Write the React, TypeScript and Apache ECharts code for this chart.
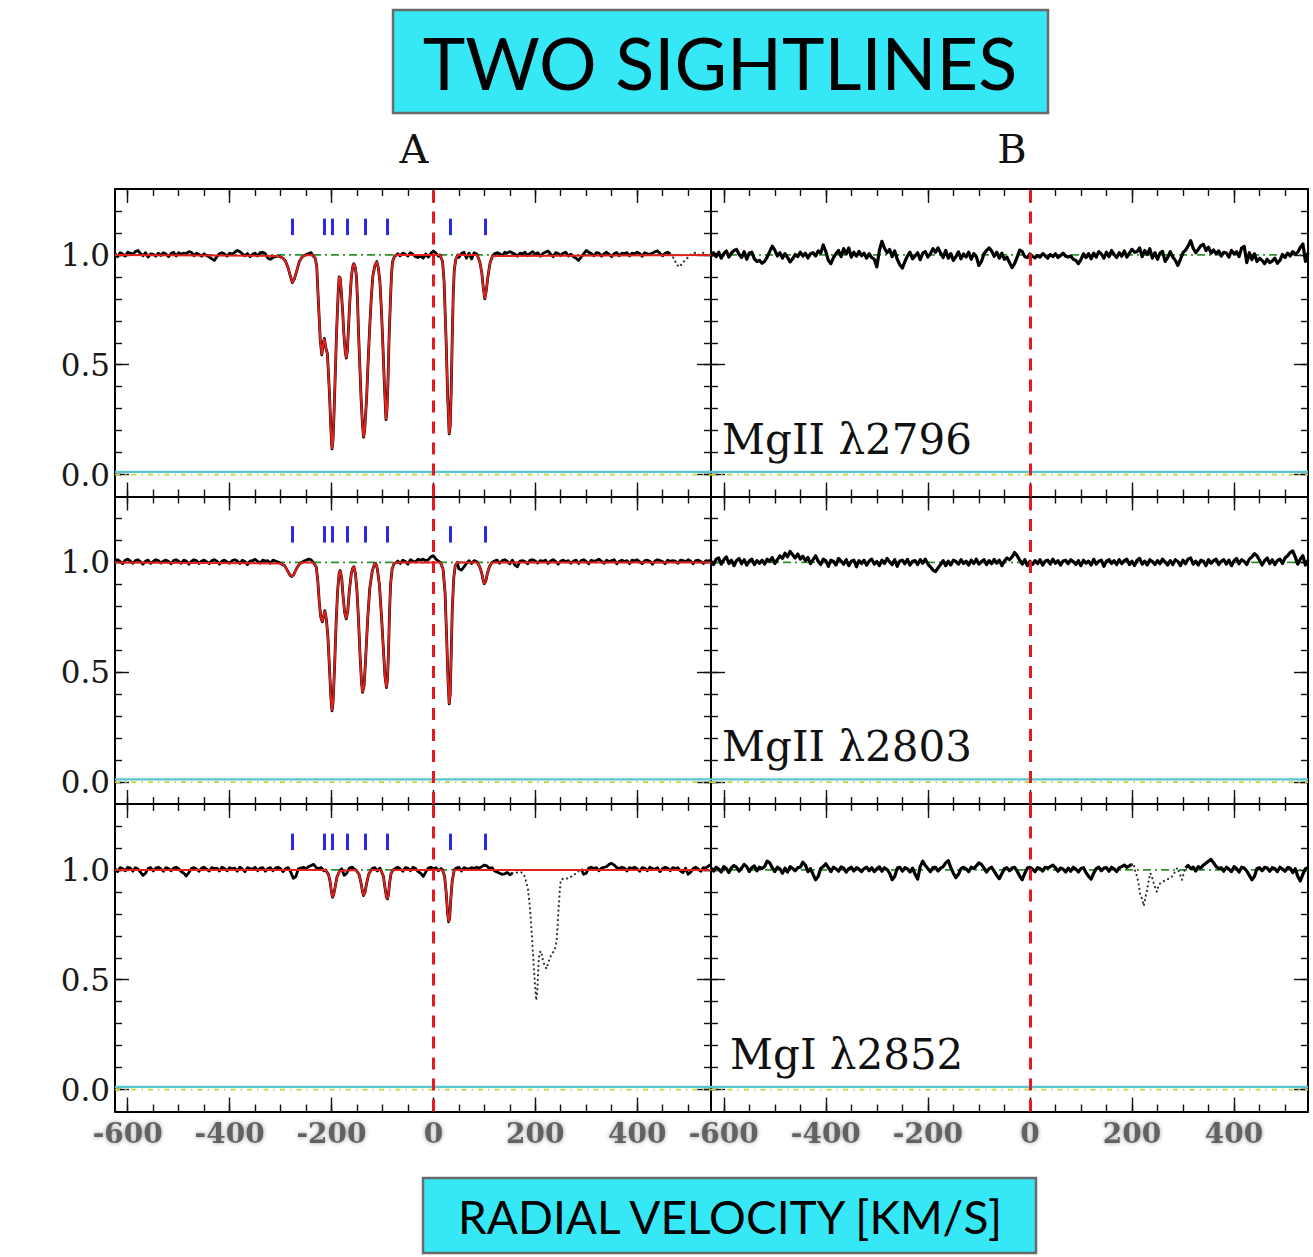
import React, { useEffect, useRef } from 'react';
import * as echarts from 'echarts';

// ---------- axis ranges & ticks ----------
const V_START = -625;
const V_END = 545;
const V_STEP = 5;
const Y_MIN = -0.1;
const Y_MAX = 1.3;

const X_MAJOR = [-600, -400, -200, 0, 200, 400];
const X_MINOR = [-600, -550, -500, -450, -400, -350, -300, -250, -200, -150, -100, -50, 0, 50, 100, 150, 200, 250, 300, 350, 400, 450, 500];
const Y_MAJOR = [0, 0.5, 1.0];
const Y_MINOR = [0, 0.1, 0.2, 0.3, 0.4, 0.5, 0.6, 0.7, 0.8, 0.9, 1.0, 1.1, 1.2];

// component velocities (blue ticks), error level, continuum
const COMPONENT_VELOCITIES = [-277, -215, -198, -169, -134, -91, 33, 101];
const TICK_BOTTOM = 1.09;
const TICK_TOP = 1.165;
const ERROR_LEVEL = 0.012;
const CONTINUUM = 1.0;

// ---------- observed flux: deviations from 1 in thousandths, sampled every 5 km/s from -625 ----------
// null = no solid sample (inside a fitted-profile window, or a masked/dotted region)
const A1_NOISE = [
  5, -8, 10, 4, -6, 12, 8, 3, 15, 20, 6, -4, 10, -10, 5, 2, -6, 8, -3, 10,
  4, -8, 6, 12, -5, 10, 3, 8, 6, 15, 12, -4, 8, 2, -6, 5, -3, -10, -18, -25,
  -8, 5, 10, 4, -6, 8, 3, 12, 20, 15, 5, -4, 6, -8, 3, 8, -5, 10, 12, 6,
  -15, -20, -12, -8, null, null, null, null, null, null, null, null, null, null, null, 2, 6, 10, null, null,
  null, null, null, null, null, null, null, null, null, null, null, null, null, null, null, null, null, null, null, null,
  null, null, null, null, null, null, null, null, null, null, null, 5, -4, 8, 3, -6, 10, 2, -8, -12,
  -5, -15, 4, -10, 6, 18, 8, -6, null, null, null, null, null, null, null, -12, 6, 12, -15, 8,
  -18, 10, 4, null, null, null, null, null, null, 5, 10, 6, -4, 12, 8, 15, 10, 4, -6, 8,
  5, 12, -4, 8, 15, 3, 10, -6, 6, 12, 18, 4, -8, 10, 6, -3, 8, 12, -5, 3,
  -8, -15, -25, -10, 5, 20, 12, 6, -4, 10, 8, -6, 5, 12, 3, -8, 6, 10, -4, 8,
  6, 10, -5, 8, 4, 12, 6, -6, 10, 5, 3, 8, 14, 18, 6, -4, 8, 12, 5, null,
  null, null, null, null, null, null, null, null, null, null, null, null, null, null, null,
];
const A2_NOISE = [
  8, 12, 4, -6, 10, 15, 6, -4, 8, 12, 3, -8, 6, 10, -5, 4, 12, 8, -3, 6,
  10, 4, -6, 8, 12, 5, -4, 10, 6, -8, 4, 12, 8, -5, 6, 10, 3, -6, 8, 12,
  5, -8, 6, 10, 2, -4, 8, 12, 6, -5, 10, 4, -10, 6, 8, 14, 5, -3, 10, 6,
  8, -4, 10, 6, 2, null, null, null, null, null, null, null, null, null, 5, 10, 15, 12, null, null,
  null, null, null, null, null, null, null, null, null, null, null, null, null, null, null, null, null, null, null, null,
  null, null, null, null, null, null, null, null, null, null, null, 6, -5, 10, 4, -8, 12, 5, 2, 15,
  10, 15, 8, 12, 25, 30, 15, 5, null, null, null, null, null, null, null, -30, -35, -20, -5, 8,
  -5, 8, 4, null, null, null, null, null, null, 6, 10, -4, 8, 12, 5, -6, 10, -12, -20, 6,
  8, 4, -6, 10, 12, 6, -3, 8, 5, 10, -5, 6, 12, 4, -8, 6, 10, 3, 8, -4,
  6, 10, -5, 8, 12, 4, -6, 10, 5, 8, 15, 6, -4, 10, 3, 8, 12, -6, 5, 10,
  4, 8, -6, 10, 6, 12, 3, -5, 8, 10, 5, -8, 6, 12, 8, 4, -6, 10, 5, 8,
  6, -4, 10, 8, 3, 12, 5, -6, 8, 10, 4, -5, 8, 6, 10,
];
const A3_NOISE = [
  5, -8, 10, 6, -4, 12, 8, -6, 10, 4, -10, -25, -15, 6, 10, -5, 8, 12, 4, -6,
  10, 6, -4, 8, 12, 5, -8, -15, -28, -12, 6, 10, 4, -6, 8, 12, 3, -5, 10, 6,
  8, -5, 12, 6, -4, 10, 5, 8, -6, 12, 4, -8, 10, 6, 3, 12, -4, 8, 10, -6,
  6, 10, -4, 8, 12, 5, -8, 6, 10, -10, -38, -30, 5, 8, 12, 4, 15, 20, 25, 10,
  6, 10, -4, null, null, null, null, null, null, 5, -25, -15, 8, 12, 4, null, null, null, null, null,
  null, 6, 10, -5, 8, null, null, null, null, null, 6, 12, 4, -6, 10, 8, -4, 12, 6, -8,
  -15, -30, -10, 8, 12, 5, 10, -4, 6, null, null, null, null, null, 8, 12, -5, 10, 6, 4,
  10, 6, 12, 8, 15, 22, 18, 6, 10, -5, -10, -15, -20, -18, -12, -22, -15, null, null, null,
  null, null, null, null, null, null, null, null, null, null, null, null, null, null, null, null, null, null, null, null,
  null, null, null, 5, -20, -15, 8, 12, 6, 10, -4, 8, 12, 15, 25, 30, 22, 10, 6, 12,
  8, -5, 10, 6, 12, 4, -6, 10, 8, -4, 12, 6, 3, 10, -8, 6, 12, 8, -4, 10,
  6, 10, -5, -12, 8, -20, -10, 6, 12, 4, -6, 10, 8, 18, 25,
];
const B1_NOISE = [
  -5, 10, -8, 12, -15, 5, 18, -10, 8, 20, 25, 3, -12, 15, -20, 8, 12, -18, -30, -25,
  -38, -30, -10, 15, 40, 22, -5, 10, -15, 6, -12, -32, -18, 2, -8, 12, -6, 8, -14, 5,
  10, -5, 18, 8, 45, 15, -25, -40, -12, 6, 20, -8, 28, 4, 32, -10, 12, -6, 16, -4,
  8, -15, 5, -12, -20, -55, 20, 62, 30, 10, 25, -8, 18, -20, -45, -60, -30, -5, 12, -18,
  -5, 10, -22, 8, 15, -10, 5, 28, 12, 32, 8, -12, 20, -15, 6, -25, -8, 14, -18, 4,
  -10, 12, -20, 6, -8, -48, -30, 5, 20, 32, 18, -6, 12, -15, 8, -20, -10, -35, -58, -40,
  -10, 22, 15, -8, -12, 4, -6, -14, -2, -10, 6, -4, -15, 2, -8, 5, -12, -3, 8, -6,
  -10, -5, -20, -25, -40, -22, 5, -12, 6, -18, 8, -10, 15, 4, -15, 12, -8, 20, 2, -12,
  10, -6, 18, -10, 8, 25, 12, 15, 32, -8, 20, 2, 28, -15, 10, -20, 8, 16, -30, -12,
  15, -10, -25, -48, -20, 10, 22, 40, 65, 30, 10, 25, 42, 48, 20, 35, 8, 22, 5, 18,
  -5, 12, 8, -10, 20, 5, 15, -8, 32, 38, -35, 10, -22, 5, -30, -15, -25, -40, -20, -35,
  -28, -15, -38, -25, 2, -12, 8, -5, 15, 5, 12, 35, 50, -30, 10,
];
const B2_NOISE = [
  5, -10, 15, 20, -8, 12, 25, -5, 10, -15, 8, 18, -6, 12, -12, 6, 15, -10, 8, -4,
  10, -8, 15, 5, 22, -5, 12, 30, 18, 42, 25, 50, 35, 20, 38, 15, 28, 8, 22, -6,
  12, 30, 5, -10, 15, 8, -18, 10, 4, -12, 18, 6, -8, 12, -15, 5, 10, -20, 8, -5,
  10, -12, 6, 15, -8, 4, -15, 10, -5, 18, 2, -10, 12, -18, 6, 10, -6, 14, -12, 5,
  8, -10, 12, -4, 15, -8, -20, -35, -42, -25, -10, 8, -15, 6, -12, 10, 4, -8, 12, -5,
  6, -12, 10, -5, 15, -8, 4, 12, -10, 8, -6, 14, -4, 10, -15, 6, 20, 12, 25, 45,
  30, 10, -8, 12, -15, 5, -10, 8, -5, 12, -12, 6, 10, -8, 15, -4, 8, -12, 6, 10,
  -6, 12, 4, -10, 8, -15, 10, -4, 6, -12, 14, -8, 5, 10, -18, 6, 12, -5, 8, -10,
  12, -6, 8, 15, -10, 5, -14, 10, 18, -8, 6, -12, 12, 4, -10, 8, -6, 15, 2, -12,
  8, -10, 12, 4, -15, 10, -6, 15, 20, -8, 6, -12, 10, 5, -15, 12, -4, 8, 15, -10,
  6, 12, -8, 10, -15, 8, 18, -6, 12, 4, -10, 15, 25, 40, 30, 10, -12, 8, 20, -6,
  12, -10, 8, 15, -5, 20, 30, 45, 52, 25, -8, 15, 30, -12, 10,
];
const B3_NOISE = [
  8, -5, 12, 4, -10, 15, 6, -12, 10, 20, 12, -6, 8, 25, 15, -8, 10, 18, -4, 12,
  6, 15, 40, 32, 10, -8, 12, 5, -15, 8, -10, 15, 6, -4, 10, 12, 35, 22, -8, 6,
  -20, -45, -30, 6, 15, 28, 10, -8, 12, 5, -6, 14, 8, -10, 6, 12, -5, 10, 4, -8,
  6, 12, -4, 10, -8, 5, 14, -6, 10, 2, -15, -45, -30, 8, 12, -6, 10, 4, -10, 8,
  -20, -42, 15, 40, 20, 6, -8, 10, 12, -5, 8, 15, 32, 42, 10, -15, -35, -20, 6, 12,
  5, -8, 12, 6, 18, 32, 25, 8, -10, 6, 12, -6, -25, -40, -18, 5, 10, -4, 8, 12,
  -6, -28, -45, -15, 8, 12, 4, -8, 10, 6, -5, 12, 8, 15, 22, 10, -6, 8, 4, -10,
  8, -6, 12, 4, -10, 6, 10, -12, -30, -42, -15, 6, 12, -4, 8, 10, -6, 12, 5, -8,
  10, 15, 22, 12, 18, 25, null, null, null, null, null, null, null, null, null, null, null, null, null, null,
  null, null, null, null, null, null, 10, 20, 6, 12, -5, 15, 8, 22, 30, 40, 48, 32, 15, 6,
  10, -6, 12, 4, -8, 15, 6, -10, 12, 8, -5, -25, -45, -30, 6, 10, -4, 12, 8, -6,
  10, 6, -8, 12, 4, -6, 10, 8, -12, 5, -30, -50, -20, 5, 10,
];

// ---------- absorption profiles [velocity, normalised flux] ----------
const A1_PROFILES = [
  [[-305, 0.995], [-300, 0.99], [-295, 0.985], [-290, 0.97], [-285, 0.94], [-281, 0.905], [-277, 0.874], [-273, 0.89], [-268, 0.93], [-263, 0.97], [-258, 0.99], [-252, 0.998]],
  [[-238, 1.0], [-232, 0.985], [-229, 0.95], [-226, 0.8], [-222, 0.61], [-219, 0.545], [-216, 0.6], [-214, 0.62], [-211, 0.575], [-208, 0.55], [-204, 0.37], [-201, 0.2], [-199, 0.117], [-197, 0.16], [-195, 0.28], [-192, 0.5], [-190, 0.65], [-187, 0.82], [-185, 0.9], [-183, 0.895], [-181, 0.84], [-178, 0.74], [-176, 0.65], [-173, 0.56], [-171, 0.53], [-169, 0.56], [-167, 0.65], [-164, 0.79], [-161, 0.9], [-158, 0.95], [-156, 0.96], [-153, 0.94], [-151, 0.9], [-149, 0.8], [-147, 0.65], [-144, 0.47], [-142, 0.35], [-139, 0.22], [-137, 0.17], [-135, 0.2], [-131, 0.35], [-128, 0.52], [-125, 0.67], [-122, 0.8], [-119, 0.9], [-115, 0.95], [-111, 0.97], [-108, 0.94], [-105, 0.88], [-102, 0.75], [-99, 0.58], [-96, 0.4], [-93, 0.25], [-91, 0.3], [-89, 0.43], [-87, 0.62], [-84, 0.81], [-82, 0.92], [-80, 0.97], [-76, 0.995], [-72, 1.0]],
  [[13, 1.0], [18, 0.97], [21, 0.88], [25, 0.61], [28, 0.36], [31, 0.185], [33, 0.22], [35, 0.38], [37, 0.62], [39, 0.82], [41, 0.93], [44, 0.98], [48, 1.0]],
  [[86, 1.0], [91, 0.97], [95, 0.92], [98, 0.85], [101, 0.8], [104, 0.84], [107, 0.9], [111, 0.96], [116, 0.995]],
];
const A2_PROFILES = [
  [[-300, 0.995], [-292, 0.985], [-286, 0.96], [-281, 0.94], [-278, 0.936], [-274, 0.945], [-269, 0.97], [-264, 0.99], [-258, 1.0]],
  [[-236, 1.0], [-230, 0.98], [-227, 0.92], [-224, 0.82], [-221, 0.75], [-218, 0.73], [-215, 0.76], [-213, 0.78], [-210, 0.74], [-207, 0.66], [-204, 0.52], [-201, 0.38], [-199, 0.324], [-197, 0.36], [-194, 0.52], [-191, 0.72], [-188, 0.87], [-185, 0.95], [-183, 0.963], [-180, 0.93], [-177, 0.84], [-174, 0.77], [-171, 0.743], [-168, 0.78], [-165, 0.87], [-161, 0.95], [-158, 0.975], [-156, 0.98], [-153, 0.95], [-150, 0.87], [-147, 0.74], [-144, 0.58], [-141, 0.45], [-139, 0.408], [-136, 0.44], [-133, 0.56], [-129, 0.74], [-125, 0.88], [-120, 0.96], [-116, 0.99], [-113, 0.995], [-110, 0.97], [-106, 0.9], [-102, 0.76], [-98, 0.6], [-95, 0.48], [-92, 0.43], [-90, 0.47], [-88, 0.6], [-86, 0.78], [-84, 0.9], [-81, 0.97], [-77, 0.995], [-72, 1.0]],
  [[14, 1.0], [19, 0.97], [23, 0.86], [26, 0.66], [29, 0.45], [31, 0.356], [33, 0.4], [35, 0.58], [37, 0.78], [40, 0.93], [43, 0.985], [47, 1.0]],
  [[86, 1.0], [91, 0.98], [95, 0.95], [98, 0.915], [100, 0.903], [103, 0.915], [106, 0.95], [110, 0.98], [115, 1.0]],
];
const A3_PROFILES = [
  [[-212, 1.0], [-206, 0.98], [-203, 0.95], [-200, 0.9], [-198, 0.875], [-196, 0.885], [-193, 0.92], [-189, 0.97], [-184, 0.995]],
  [[-152, 1.0], [-146, 0.98], [-142, 0.94], [-139, 0.9], [-137, 0.883], [-134, 0.9], [-131, 0.94], [-127, 0.98], [-122, 1.0]],
  [[-103, 1.0], [-98, 0.97], [-95, 0.92], [-92, 0.875], [-90, 0.868], [-88, 0.89], [-86, 0.94], [-83, 0.985], [-79, 1.0]],
  [[18, 1.0], [22, 0.97], [25, 0.9], [28, 0.8], [30, 0.764], [32, 0.78], [34, 0.86], [37, 0.95], [41, 1.0]],
];

// ---------- masked (dotted) data [velocity, flux] ----------
const A1_DOTTED = [[465, 1.005], [472, 0.985], [478, 0.955], [483, 0.945], [488, 0.96], [494, 0.975], [500, 0.99], [507, 1.005], [515, 1.01], [522, 1.0], [530, 1.01], [537, 1.0], [545, 0.995]];
const A2_DOTTED: number[][] = [];
const A3_DOTTED = [[155, 0.985], [160, 0.985], [167, 0.99], [172, 0.99], [178, 0.977], [183, 0.94], [186, 0.909], [190, 0.817], [194, 0.68], [198, 0.528], [201, 0.43], [202, 0.406], [204, 0.45], [207, 0.6], [210, 0.63], [212, 0.627], [215, 0.59], [217, 0.574], [220, 0.56], [222, 0.55], [226, 0.58], [229, 0.6], [233, 0.62], [236, 0.627], [240, 0.65], [242, 0.68], [244, 0.75], [246, 0.833], [248, 0.9], [250, 0.954], [255, 0.96], [260, 0.962], [265, 0.96], [271, 0.97], [276, 0.975], [281, 0.99], [286, 0.995], [290, 1.005]];
const B3_DOTTED = [[200, 1.025], [203, 1.03], [207, 0.99], [210, 0.97], [213, 0.936], [216, 0.89], [220, 0.867], [223, 0.836], [226, 0.87], [229, 0.9], [232, 0.94], [236, 0.985], [239, 0.97], [243, 0.936], [247, 0.91], [249, 0.9], [252, 0.93], [258, 0.945], [264, 0.95], [269, 0.955], [274, 0.965], [279, 0.97], [284, 0.99], [289, 1.01], [294, 0.98], [298, 0.955], [302, 0.99], [305, 1.01]];

const LINE_LABELS = ['MgII λ2796', 'MgII λ2803', 'MgI λ2852'];
const COLUMN_TITLES = ['A', 'B'];
const TITLE = 'TWO SIGHTLINES';
const X_TITLE = 'RADIAL VELOCITY [KM/S]';

// ---------- layout ----------
const GRID_LEFT = [115, 711];
const GRID_WIDTH = [596, 597];
const GRID_TOP = [189, 496.5, 804];
const GRID_HEIGHT = 307.5;

type Panel = { row: number; col: number; noise: (number | null)[]; profiles: number[][][]; dotted: number[][]; model: boolean };
const PANELS: Panel[] = [
  { row: 0, col: 0, noise: A1_NOISE, profiles: A1_PROFILES, dotted: A1_DOTTED, model: true },
  { row: 0, col: 1, noise: B1_NOISE, profiles: [], dotted: [], model: false },
  { row: 1, col: 0, noise: A2_NOISE, profiles: A2_PROFILES, dotted: A2_DOTTED, model: true },
  { row: 1, col: 1, noise: B2_NOISE, profiles: [], dotted: [], model: false },
  { row: 2, col: 0, noise: A3_NOISE, profiles: A3_PROFILES, dotted: A3_DOTTED, model: true },
  { row: 2, col: 1, noise: B3_NOISE, profiles: [], dotted: B3_DOTTED, model: false },
];

function observed(noise: (number | null)[], profiles: number[][][]) {
  const windows = profiles.map((f) => [f[0][0], f[f.length - 1][0]]);
  const pts: (number | null)[][] = [];
  noise.forEach((d, i) => {
    const v = V_START + i * V_STEP;
    if (windows.some(([a, b]) => v >= a && v <= b)) return;
    pts.push([v, d === null ? null : 1 + d / 1000]);
  });
  profiles.forEach((f) => f.forEach((p) => pts.push(p)));
  pts.sort((a, b) => (a[0] as number) - (b[0] as number));
  return pts;
}

function model(profiles: number[][][]) {
  const pts: number[][] = [[V_START, CONTINUUM]];
  profiles.forEach((f) => f.forEach((p) => pts.push(p)));
  pts.push([V_END, CONTINUUM]);
  pts.sort((a, b) => a[0] - b[0]);
  return pts;
}

const X_LABEL_STYLE = {
  color: '#626262',
  fontFamily: 'DejaVu Serif',
  fontWeight: 'bold' as const,
  fontSize: 28,
  margin: 8,
  textShadowColor: 'rgba(0,0,0,0.4)',
  textShadowBlur: 4,
};

function mkX(g: number, position: string, ticks: number[], len: number, line: boolean, labels: boolean) {
  return {
    type: 'value', gridIndex: g, position, min: V_START, max: V_END,
    axisLine: { show: line, onZero: false, lineStyle: { color: '#000', width: 2 } },
    axisTick: { show: true, inside: true, length: len, customValues: ticks, lineStyle: { color: '#111', width: 1.4 } },
    axisLabel: { show: labels, customValues: X_MAJOR, formatter: (v: number) => String(v), ...X_LABEL_STYLE },
    splitLine: { show: false },
  };
}

function mkY(g: number, position: string, ticks: number[], len: number, line: boolean, labels: boolean) {
  return {
    type: 'value', gridIndex: g, position, min: Y_MIN, max: Y_MAX,
    axisLine: { show: line, onZero: false, lineStyle: { color: '#000', width: 2 } },
    axisTick: { show: true, inside: true, length: len, customValues: ticks, lineStyle: { color: '#111', width: 1.4 } },
    axisLabel: {
      show: labels, customValues: Y_MAJOR, formatter: (v: number) => v.toFixed(1),
      color: '#1a1a1a', fontFamily: 'DejaVu Serif', fontSize: 31, margin: 5,
    },
    splitLine: { show: false },
  };
}

function buildOption() {
  const grid: any[] = [];
  const xAxis: any[] = [];
  const yAxis: any[] = [];
  const series: any[] = [];

  PANELS.forEach((p, g) => {
    grid.push({ left: GRID_LEFT[p.col], top: GRID_TOP[p.row], width: GRID_WIDTH[p.col], height: GRID_HEIGHT });
    const xi = xAxis.length;
    const yi = yAxis.length;
    const showX = p.row === 2;
    const showY = p.col === 0;
    xAxis.push(
      mkX(g, 'bottom', X_MAJOR, 14, true, showX),
      mkX(g, 'bottom', X_MINOR, 7, false, false),
      mkX(g, 'top', X_MAJOR, 14, true, false),
      mkX(g, 'top', X_MINOR, 7, false, false),
    );
    yAxis.push(
      mkY(g, 'left', Y_MAJOR, 14, true, showY),
      mkY(g, 'left', Y_MINOR, 7, false, false),
      mkY(g, 'right', Y_MAJOR, 14, true, false),
      mkY(g, 'right', Y_MINOR, 7, false, false),
    );
    const base = { type: 'line', xAxisIndex: xi, yAxisIndex: yi, showSymbol: false, symbol: 'none', silent: true, animation: false };
    series.push({ ...base, data: [[V_START, CONTINUUM], [V_END, CONTINUUM]], z: 1, lineStyle: { color: '#2f8f2f', width: 1.8, type: [8, 4, 2, 4] } });
    series.push({ ...base, data: [[V_START, 0], [V_END, 0]], z: 1, lineStyle: { color: '#c4d43c', width: 1.8, type: [5, 5, 1.5, 5] } });
    series.push({ ...base, data: [[V_START, ERROR_LEVEL], [V_END, ERROR_LEVEL]], z: 2, lineStyle: { color: '#56c6d0', width: 2.4 } });
    series.push({ ...base, data: observed(p.noise, p.profiles), z: 3, connectNulls: false, lineStyle: { color: '#000', width: p.model ? 2.8 : 3.2, join: 'round' } });
    if (p.dotted.length) {
      series.push({ ...base, data: p.dotted, z: 3, lineStyle: { color: '#333', width: 2.2, type: [0.1, 4.6], cap: 'round' } });
    }
    if (p.model) {
      series.push({ ...base, data: model(p.profiles), z: 4, lineStyle: { color: '#e3201b', width: 2 } });
    }
    const markData: any[] = [{ xAxis: 0 }];
    if (p.model) {
      COMPONENT_VELOCITIES.forEach((v) => {
        markData.push([
          { coord: [v, TICK_BOTTOM], lineStyle: { color: '#2a2ae0', width: 3, type: 'solid' } },
          { coord: [v, TICK_TOP] },
        ]);
      });
    }
    series.push({
      ...base, data: [], z: 6,
      markLine: {
        silent: true, symbol: ['none', 'none'], animation: false, label: { show: false },
        lineStyle: { color: '#e8161f', width: 3, type: [12, 9] },
        emphasis: { disabled: true },
        data: markData,
      },
    });
  });

  const graphic: any[] = [
    { type: 'rect', shape: { x: 393, y: 10, width: 655, height: 103 }, style: { fill: '#36e8f5', stroke: '#6a6a6a', lineWidth: 2.5 } },
    { type: 'text', x: 720, y: 62, style: { text: TITLE, font: 'normal 72px Lato', fill: '#000', textAlign: 'center', textVerticalAlign: 'middle', shadowBlur: 6, shadowColor: 'rgba(0,0,0,0.55)', shadowOffsetY: 3 } },
    { type: 'rect', shape: { x: 423, y: 1178, width: 613, height: 75 }, style: { fill: '#36e8f5', stroke: '#6a6a6a', lineWidth: 2.5 } },
    { type: 'text', x: 730, y: 1216, style: { text: X_TITLE, font: 'normal 46px Lato', fill: '#000', textAlign: 'center', textVerticalAlign: 'middle', shadowBlur: 5, shadowColor: 'rgba(0,0,0,0.5)', shadowOffsetY: 3 } },
    { type: 'text', x: 414, y: 149, style: { text: COLUMN_TITLES[0], font: 'normal 40px DejaVu Serif', fill: '#111', textAlign: 'center', textVerticalAlign: 'middle' } },
    { type: 'text', x: 1012, y: 149, style: { text: COLUMN_TITLES[1], font: 'normal 40px DejaVu Serif', fill: '#111', textAlign: 'center', textVerticalAlign: 'middle' } },
  ];
  LINE_LABELS.forEach((t, r) => {
    graphic.push({ type: 'text', x: r === 2 ? 730 : 722, y: GRID_TOP[r] + 250, style: { text: t, font: 'normal 42px DejaVu Serif', fill: '#111', textAlign: 'left', textVerticalAlign: 'middle' } });
  });

  return { animation: false, backgroundColor: '#fff', grid, xAxis, yAxis, series, graphic };
}

export default function App() {
  const ref = useRef<HTMLDivElement>(null);
  useEffect(() => {
    const chart = echarts.init(ref.current!, null, { renderer: 'svg' });
    chart.setOption(buildOption() as any);
    return () => chart.dispose();
  }, []);
  return <div ref={ref} style={{ position: 'absolute', left: 0, top: 0, width: 1313, height: 1257, background: '#fff' }} />;
}
